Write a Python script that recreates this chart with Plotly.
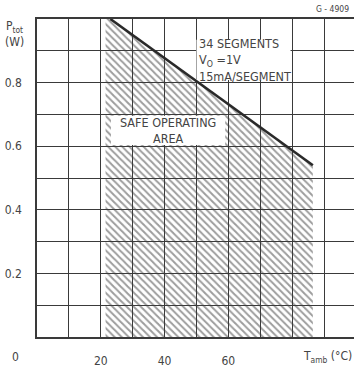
import plotly.graph_objects as go

# Safe operating area: derating of total power with ambient temperature
t_area = [21.5, 21.5, 23.0, 86.5, 86.5]     # °C, outline of the hatched region
p_area = [0.0, 1.0, 1.0, 0.54, 0.0]         # W
t_limit = [23.0, 86.5]                      # °C, derating line
p_limit = [1.0, 0.54]                       # W

x_ticks = [20, 40, 60]
x_labels = ["20", "40", "60"]
y_ticks = [0.2, 0.4, 0.6, 0.8]
y_labels = ["0.2", "0.4", "0.6", "0.8"]

ink = "#3a3a3a"
txt = "#444444"
font_family = "Liberation Sans Narrow, DejaVu Sans Condensed, Liberation Sans, Arial, sans-serif"

fig = go.Figure()

fig.add_trace(go.Scatter(
    x=t_area, y=p_area, mode="lines", fill="toself",
    line=dict(width=0),
    fillcolor="rgba(0,0,0,0)",
    fillpattern=dict(shape="\\", size=5, solidity=0.4, fgcolor="#3c3c3c",
                     bgcolor="rgba(255,255,255,0)"),
    hoverinfo="skip", showlegend=False,
))

fig.add_trace(go.Scatter(
    x=t_limit, y=p_limit, mode="lines",
    line=dict(color="#2a2a2a", width=2.6),
    hoverinfo="skip", showlegend=False,
))

# White label boxes over the grid
fig.add_shape(type="rect", x0=23.2, x1=59.0, y0=0.604, y1=0.696,
              fillcolor="white", line=dict(width=0), layer="above")
fig.add_shape(type="rect", x0=50.0, x1=79.5, y0=0.808, y1=0.935,
              fillcolor="white", line=dict(width=0), layer="above")

fig.add_annotation(x=41.0, y=0.650, text="SAFE OPERATING<br>AREA",
                   showarrow=False, xanchor="center", yanchor="middle",
                   font=dict(family=font_family, size=12.5, color=txt), align="center")
fig.add_annotation(x=50.2, y=0.872, text="34 SEGMENTS<br>V<sub>O</sub> =1V<br>15mA/SEGMENT",
                   showarrow=False, xanchor="left", yanchor="middle",
                   font=dict(family=font_family, size=12.5, color=txt), align="left")

# Axis titles and origin label
fig.add_annotation(xref="paper", yref="paper", x=-0.07, y=1.0, yshift=2,
                   text="P<sub>tot</sub><br>(W)", showarrow=False,
                   xanchor="center", yanchor="top",
                   font=dict(family=font_family, size=12, color=txt), align="center")
fig.add_annotation(x=0, y=0, xshift=-22, yshift=-20, text="0", showarrow=False,
                   xanchor="center", yanchor="middle",
                   font=dict(family=font_family, size=12, color=txt))
fig.add_annotation(xref="paper", yref="paper", x=1.0, y=0, yshift=-20,
                   text="T<sub>amb</sub> (°C)", showarrow=False,
                   xanchor="right", yanchor="middle",
                   font=dict(family=font_family, size=12, color=txt))
fig.add_annotation(xref="paper", yref="paper", x=0.99, y=1.0, yshift=10,
                   text="G - 4909", showarrow=False,
                   xanchor="right", yanchor="middle",
                   font=dict(family=font_family, size=8.5, color=txt))

grid = dict(showgrid=True, gridcolor=ink, gridwidth=1.2)

fig.update_xaxes(
    range=[0, 99.4], tickvals=x_ticks, ticktext=x_labels,
    ticks="", ticklabelstandoff=12,
    showline=True, linecolor=ink, linewidth=1.6, mirror=True,
    minor=dict(dtick=10, tick0=0, **grid), **grid,
    zeroline=False,
    tickfont=dict(family=font_family, size=12, color=txt),
)
fig.update_yaxes(
    range=[0, 1.0], tickvals=y_ticks, ticktext=y_labels,
    ticks="", ticklabelstandoff=11,
    showline=True, linecolor=ink, linewidth=1.6, mirror=False,
    minor=dict(dtick=0.1, tick0=0, **grid), **grid,
    zeroline=False,
    tickfont=dict(family=font_family, size=12, color=txt),
)

fig.update_layout(
    width=354, height=368,
    margin=dict(l=37, r=0, t=19, b=31),
    plot_bgcolor="white", paper_bgcolor="white",
    showlegend=False,
)

fig.write_html("out.html")
